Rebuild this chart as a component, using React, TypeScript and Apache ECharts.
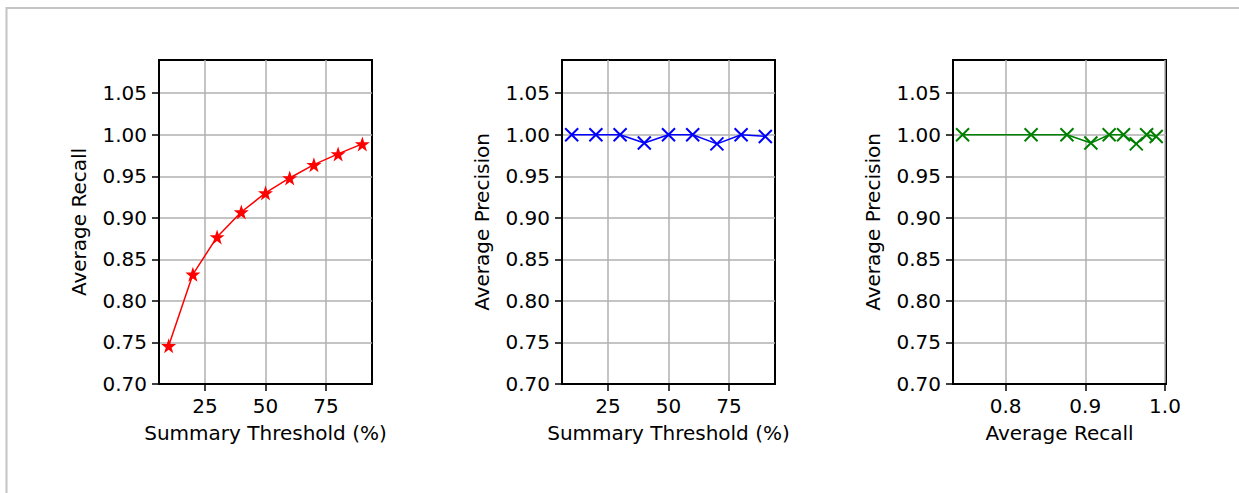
import React, { useEffect, useRef } from "react";
import * as echarts from "echarts";

const thresholds = [10, 20, 30, 40, 50, 60, 70, 80, 90];
const avgRecall = [0.746, 0.832, 0.877, 0.907, 0.930, 0.948, 0.964, 0.977, 0.989];
const avgPrecision = [1.0, 1.0, 1.0, 0.990, 1.0, 1.0, 0.989, 1.0, 0.998];
const yTicks = [0.7, 0.75, 0.8, 0.85, 0.9, 0.95, 1.0, 1.05];
const thresholdTicks = [25, 50, 75];
const recallTicks = [0.8, 0.9, 1.0];

const FONT = "DejaVu Sans";
const STAR = "path://M50 0 L61.8 35.1 L97.6 35.1 L68.5 56.7 L79.4 91 L50 70 L20.6 91 L31.5 56.7 L2.4 35.1 L38.2 35.1 Z";
const CROSS = "path://M0 0 L10 10 M10 0 L0 10";

function yAxis(gi: number, name: string) {
  return {
    type: "value",
    gridIndex: gi,
    min: 0.7,
    max: 1.09,
    interval: 0.05,
    name,
    nameLocation: "middle",
    nameGap: 70,
    nameTextStyle: { fontFamily: FONT, fontSize: 20, color: "#000" },
    axisLine: { show: true, lineStyle: { color: "#000", width: 2 } },
    axisTick: { show: true, length: 7, lineStyle: { color: "#000", width: 1.5 }, customValues: yTicks },
    axisLabel: {
      fontFamily: FONT, fontSize: 20, color: "#000", margin: 12,
      customValues: yTicks,
      formatter: (v: number) => v.toFixed(2),
    },
    splitLine: { show: true, lineStyle: { color: "#b0b0b0", width: 1.5 } },
  };
}

function xAxis(gi: number, name: string, min: number, max: number, ticks: number[], digits: number) {
  return {
    type: "value",
    gridIndex: gi,
    min,
    max,
    name,
    nameLocation: "middle",
    nameGap: 39,
    nameTextStyle: { fontFamily: FONT, fontSize: 20, color: "#000" },
    axisLine: { show: true, lineStyle: { color: "#000", width: 2 } },
    axisTick: { show: true, length: 7, lineStyle: { color: "#000", width: 1.5 }, customValues: ticks },
    axisLabel: {
      fontFamily: FONT, fontSize: 20, color: "#000", margin: 12,
      customValues: ticks,
      formatter: (v: number) => v.toFixed(digits),
    },
    splitLine: { show: true, lineStyle: { color: "#b0b0b0", width: 1.5 } },
  };
}

export default function App() {
  const ref = useRef<HTMLDivElement>(null);
  useEffect(() => {
    if (!ref.current) return;
    const chart = echarts.init(ref.current, null, { renderer: "svg" });
    const gridBase = { top: 60, bottom: 109, show: true, borderColor: "#000", borderWidth: 2, backgroundColor: "#fff" };
    chart.setOption({
      animation: false,
      backgroundColor: "#fff",
      graphic: [
        {
          type: "rect",
          shape: { x: 6.5, y: 8, width: 1300, height: 600 },
          style: { fill: "none", stroke: "#c4c4c4", lineWidth: 2 },
          silent: true,
        },
      ],
      grid: [
        { ...gridBase, left: 159, right: 867 },
        { ...gridBase, left: 562, right: 464 },
        { ...gridBase, left: 953, right: 73 },
      ],
      xAxis: [
        xAxis(0, "Summary Threshold (%)", 6, 94, thresholdTicks, 0),
        xAxis(1, "Summary Threshold (%)", 6, 94, thresholdTicks, 0),
        xAxis(2, "Average Recall", 0.734, 1.0013, recallTicks, 1),
      ],
      yAxis: [
        yAxis(0, "Average Recall"),
        yAxis(1, "Average Precision"),
        yAxis(2, "Average Precision"),
      ],
      series: [
        {
          type: "line",
          xAxisIndex: 0,
          yAxisIndex: 0,
          data: thresholds.map((t, i) => [t, avgRecall[i]]),
          symbol: STAR,
          symbolSize: 15,
          showAllSymbol: true,
          lineStyle: { color: "#ff0000", width: 1.5 },
          itemStyle: { color: "#ff0000" },
        },
        {
          type: "line",
          xAxisIndex: 1,
          yAxisIndex: 1,
          data: thresholds.map((t, i) => [t, avgPrecision[i]]),
          symbol: CROSS,
          symbolSize: 13,
          showAllSymbol: true,
          lineStyle: { color: "#0000ff", width: 1.5 },
          itemStyle: { color: "none", borderColor: "#0000ff", borderWidth: 2 },
        },
        {
          type: "line",
          xAxisIndex: 2,
          yAxisIndex: 2,
          data: avgRecall.map((r, i) => [r, avgPrecision[i]]),
          symbol: CROSS,
          symbolSize: 13,
          showAllSymbol: true,
          lineStyle: { color: "#008000", width: 1.5 },
          itemStyle: { color: "none", borderColor: "#008000", borderWidth: 2 },
        },
      ],
    });
    return () => chart.dispose();
  }, []);
  return (
    <div
      ref={ref}
      style={{ position: "absolute", left: 0, top: 0, width: 1239, height: 493 }}
    />
  );
}
